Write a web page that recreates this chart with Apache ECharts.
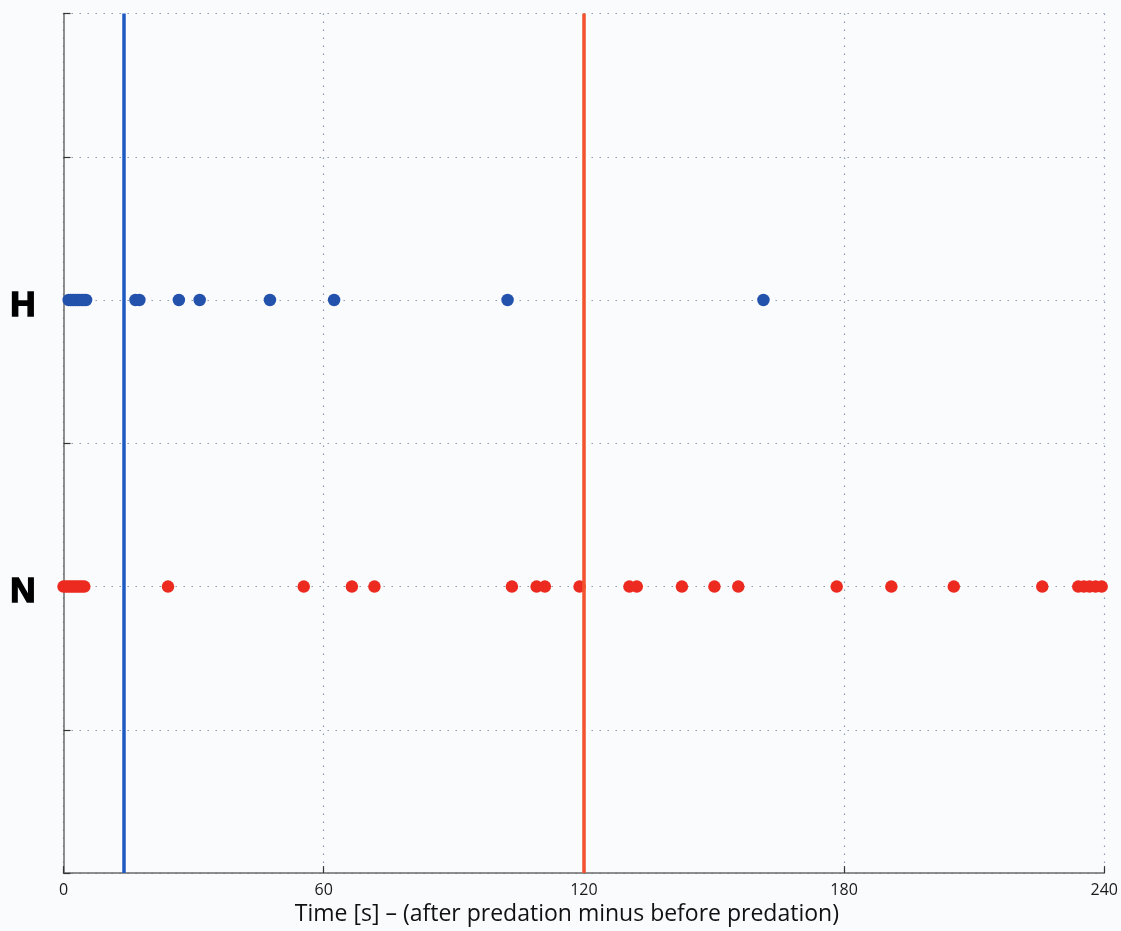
<!DOCTYPE html>
<html>
<head>
<meta charset="utf-8">
<script src="https://cdn.jsdelivr.net/npm/echarts@6/dist/echarts.min.js"></script>
<style>
html,body{margin:0;padding:0;background:#fafbfd;}
#chart{width:1121px;height:931px;}
</style>
</head>
<body>
<div id="chart"></div>
<script>
// Data
const xTickLabels = ['0', '60', '120', '180', '240'];
const rowLabels = { 2: 'N', 4: 'H' };
const hTimes = [1.2, 1.7, 2.2, 2.7, 3.2, 3.7, 4.2, 4.7, 5.2, 16.6, 17.5, 26.6, 31.4, 47.6, 62.4, 102.4, 161.4];
const nTimes = [0, 0.6, 1.2, 1.8, 2.4, 3.0, 3.6, 4.2, 4.8, 24.1, 55.4, 66.5, 71.7, 103.4, 109.1, 111.0, 119.0, 130.5, 132.2, 142.6, 150.1, 155.6, 178.3, 190.9, 205.3, 225.7, 234.0, 235.3, 236.6, 238.0, 239.4];
const hRow = 4;
const nRow = 2;
const blueLineAt = 13.8;
const redLineAt = 120;

const chart = echarts.init(document.getElementById('chart'), null, { renderer: 'canvas' });
const gridLine = { show: true, lineStyle: { color: '#8a9ab2', width: 1.2, type: [1.5, 6.5] } };
chart.setOption({
  backgroundColor: '#fafbfd',
  animation: false,
  grid: { left: 63.5, right: 15.5, top: 13.5, bottom: 53, containLabel: false },
  xAxis: {
    type: 'value', min: 0, max: 240, interval: 60,
    axisLine: { show: true, onZero: false, lineStyle: { color: '#6b6b6b', width: 1.5 } },
    axisTick: { show: true, inside: true, length: 7, lineStyle: { color: '#333', width: 1.2 } },
    axisLabel: { color: '#1a1a1a', fontSize: 16, fontFamily: 'Open Sans', margin: 9,
      formatter: v => xTickLabels[xTickLabels.indexOf(String(v))] ?? '' },
    splitLine: gridLine,
    name: 'Time [s] – (after predation minus before predation)',
    nameLocation: 'middle', nameGap: 24,
    nameTextStyle: { color: '#111', fontSize: 23, fontFamily: 'Open Sans', padding: [0, 34, 0, 0] }
  },
  yAxis: {
    type: 'value', min: 0, max: 6, interval: 1,
    axisLine: { show: true, lineStyle: { color: '#6b6b6b', width: 1.5 } },
    axisTick: { show: true, inside: true, length: 7, lineStyle: { color: '#333', width: 1.2 } },
    axisLabel: { margin: 28,
      formatter: v => rowLabels[v] ? '{r|' + rowLabels[v] + '}' : '',
      rich: {
        r: { color: '#000', fontSize: 35, fontWeight: 'bold', fontFamily: 'Liberation Sans',
             textBorderColor: '#000', textBorderWidth: 1.5, padding: [12, 0, 0, 0] }
      }
    },
    splitLine: gridLine
  },
  series: [
    {
      type: 'scatter', name: 'H', symbol: 'circle', symbolSize: 12.5, clip: false,
      itemStyle: { color: '#2352ad', opacity: 1 },
      data: hTimes.map(t => [t, hRow]), z: 3
    },
    {
      type: 'scatter', name: 'N', symbol: 'circle', symbolSize: 12.5, clip: false,
      itemStyle: { color: '#ec2a1f', opacity: 1 },
      data: nTimes.map(t => [t, nRow]), z: 3
    },
    {
      type: 'line', data: [], z: 5,
      markLine: {
        silent: true, symbol: 'none', label: { show: false },
        data: [
          { xAxis: blueLineAt, lineStyle: { color: '#1f5ac2', width: 3.5, type: 'solid' } },
          { xAxis: redLineAt, lineStyle: { color: '#f2532d', width: 3.5, type: 'solid' } }
        ]
      }
    }
  ]
});
</script>
</body>
</html>
